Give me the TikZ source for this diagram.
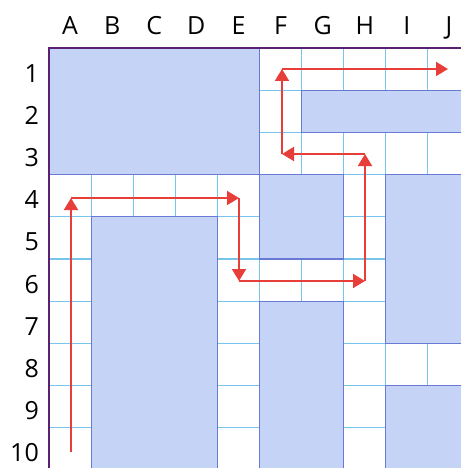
\documentclass[tikz,border=0pt]{standalone}
\usepackage{fontspec}
\setmainfont{Open Sans}
\usetikzlibrary{arrows.meta}
\definecolor{blockfill}{RGB}{196,211,246}
\definecolor{blockline}{RGB}{104,122,214}
\definecolor{cellline}{RGB}{118,198,236}
\definecolor{frameline}{RGB}{92,32,112}
\definecolor{pathred}{RGB}{232,62,58}
\tikzset{
  lab/.style={inner sep=0pt, font=\fontsize{25}{30}\selectfont, text=black},
  block/.style={fill=blockfill, draw=blockline, line width=1.1pt},
  cellgrid/.style={draw=cellline, line width=1.1pt},
  frame/.style={draw=frameline, line width=2.4pt},
  route/.style={draw=pathred, line width=1.9pt, -{Triangle[length=12pt,width=14pt]}}
}
\begin{document}
\begin{tikzpicture}[x=1pt,y=-1pt]
\useasboundingbox (0,0) rectangle (460,468);
\fill[white] (0,0) rectangle (460,468);
% cell grid lines
\foreach \i in {1,...,10} {
  \draw[cellgrid] (49+42.1*\i,48) -- (49+42.1*\i,470);
  \draw[cellgrid] (49,48+42.2*\i) -- (470,48+42.2*\i);
}
% blue blocks
\foreach \a/\b/\c/\d in {0/0/5/3, 6/1/10/2, 5/3/7/5, 8/3/10/7, 1/4/4/10, 5/6/7/10, 8/8/10/10} {
  \filldraw[block] (49+42.1*\a,48+42.2*\b) rectangle (49+42.1*\c,48+42.2*\d);
}
% outer frame (top and left)
\draw[frame] (49,470) -- (49,48) -- (470,48);
% labels
\foreach \l [count=\i from 0] in {A,B,C,D,E,F,G,H,I,J} {
  \node[lab, anchor=base] (col\l) at (70.05+42.1*\i,35) {\l};
}
\foreach \r in {1,...,10} {
  \node[lab, anchor=base east] (row\r) at (39,39.9+42.2*\r) {\r};
}
% route
\coordinate (p0) at (71,452);
\coordinate (p1) at (71,198);
\coordinate (p2) at (239,198);
\coordinate (p3) at (239,281);
\coordinate (p4) at (365,281);
\coordinate (p5) at (365,154);
\coordinate (p6) at (282,154);
\coordinate (p7) at (282,69);
\coordinate (p8) at (448,69);
\draw[route] (p0) -- (p1);
\draw[route] (p1) -- (p2);
\draw[route] (p2) -- (p3);
\draw[route] (p3) -- (p4);
\draw[route] (p4) -- (p5);
\draw[route] (p5) -- (p6);
\draw[route] (p6) -- (p7);
\draw[route] (p7) -- (p8);
\end{tikzpicture}
\end{document}
